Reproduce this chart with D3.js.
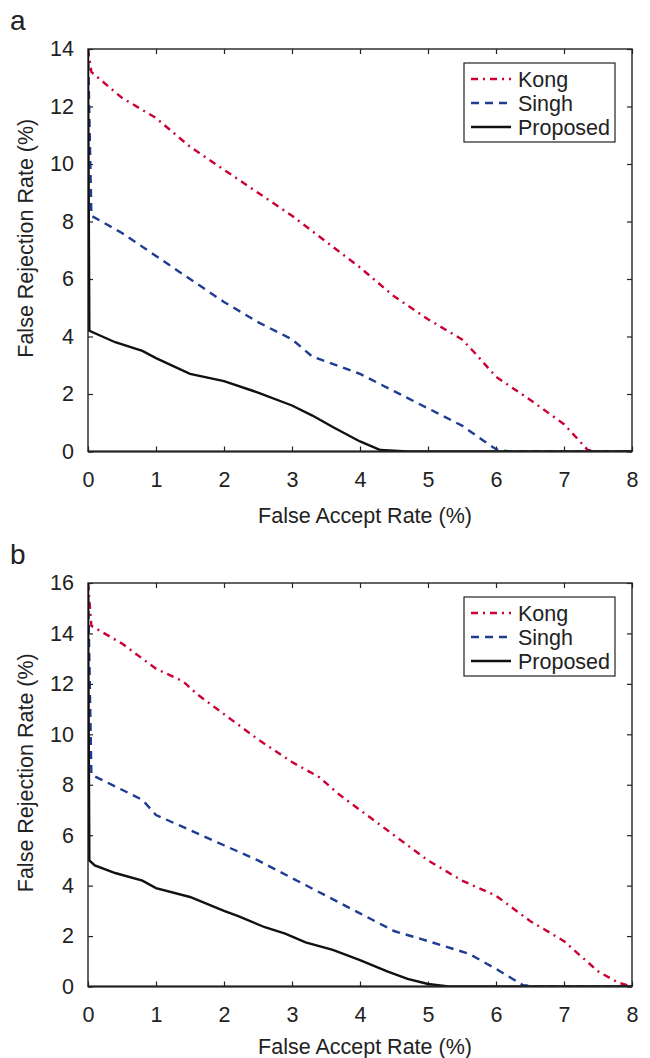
<!DOCTYPE html>
<html lang="en">
<head>
  <meta charset="UTF-8" />
  <title>FAR vs FRR</title>
  <script src="https://d3js.org/d3.v7.min.js"></script>
  <style>
    body { margin: 0; background: #fff; }
    svg { display: block; }
    text { font-family: 'Liberation Sans', Arial, sans-serif; fill: #222; }
    .tick text { font-size: 21.5px; }
    .tick line { stroke: #222; stroke-width: 1.2px; }
  </style>
</head>
<body>
  <svg id="chart" width="650" height="1058"></svg>

  <script>
    // Tick labels
    const xTicks = [0, 1, 2, 3, 4, 5, 6, 7, 8];
    const yTicksA = [0, 2, 4, 6, 8, 10, 12, 14];
    const yTicksB = [0, 2, 4, 6, 8, 10, 12, 14, 16];
    const seriesNames = ["Kong", "Singh", "Proposed"];

    // Panel a: [FAR %, FRR %]
    const kongA = [[0, 14], [0.05, 13.2], [0.5, 12.3], [1, 11.6], [1.5, 10.6], [2, 9.8], [2.5, 9.0],
      [3, 8.2], [3.5, 7.3], [4, 6.4], [4.5, 5.4], [5, 4.6], [5.5, 3.9], [5.7, 3.4], [6, 2.6],
      [6.5, 1.8], [7, 0.95], [7.35, 0.05], [7.5, 0], [8, 0]];
    const singhA = [[0, 14], [0.05, 8.2], [0.5, 7.6], [1, 6.8], [1.5, 6.0], [2, 5.2], [2.5, 4.5],
      [3, 3.9], [3.3, 3.3], [4, 2.7], [4.5, 2.1], [5, 1.5], [5.5, 0.9], [5.8, 0.4], [6, 0.08],
      [6.2, 0], [8, 0]];
    const propA = [[0, 14], [0.02, 4.2], [0.4, 3.8], [0.8, 3.5], [1, 3.25], [1.5, 2.7], [2, 2.45],
      [2.5, 2.05], [3, 1.6], [3.3, 1.25], [3.6, 0.85], [4, 0.35], [4.3, 0.05], [4.7, 0], [8, 0]];

    // Panel b
    const kongB = [[0, 16], [0.05, 14.3], [0.5, 13.6], [1, 12.6], [1.4, 12.1], [1.6, 11.6], [2, 10.8],
      [2.5, 9.8], [3, 8.9], [3.4, 8.3], [3.7, 7.6], [4, 7.0], [4.5, 6.0], [5, 5.0], [5.5, 4.2],
      [6, 3.6], [6.5, 2.6], [7, 1.8], [7.5, 0.6], [7.8, 0.15], [8, 0]];
    const singhB = [[0, 16], [0.05, 8.4], [0.5, 7.8], [0.8, 7.4], [1, 6.8], [1.5, 6.2], [2, 5.6],
      [2.5, 5.0], [3, 4.3], [3.5, 3.6], [4, 2.9], [4.5, 2.2], [5, 1.8], [5.6, 1.3], [6, 0.7],
      [6.4, 0.05], [6.6, 0], [8, 0]];
    const propB = [[0, 16], [0.02, 5.0], [0.1, 4.8], [0.4, 4.5], [0.8, 4.2], [1, 3.9], [1.5, 3.55],
      [2, 3.0], [2.2, 2.8], [2.6, 2.35], [2.9, 2.1], [3.2, 1.75], [3.6, 1.45], [4, 1.05],
      [4.4, 0.6], [4.7, 0.3], [5, 0.1], [5.3, 0], [8, 0]];

    const styles = [
      { color: "#cc0033", dash: "7,5,2,5" },
      { color: "#1f3c93", dash: "8,6" },
      { color: "#111", dash: null }
    ];

    const svg = d3.select("#chart");
    const left = 88, right = 632;

    function drawPanel(o) {
      const g = svg.append("g");
      const x = d3.scaleLinear().domain([0, 8]).range([left, right]);
      const y = d3.scaleLinear().domain([0, o.yMax]).range([o.bottom, o.top]);

      g.append("clipPath").attr("id", "clip" + o.label)
        .append("rect")
        .attr("x", left).attr("y", o.top)
        .attr("width", right - left).attr("height", o.bottom - o.top);

      // axes with inward ticks on all four sides
      g.append("g").attr("transform", `translate(0,${o.bottom})`)
        .call(d3.axisBottom(x).tickValues(xTicks).tickSizeInner(-5).tickSizeOuter(0).tickPadding(20));
      g.append("g").attr("transform", `translate(0,${o.top})`)
        .call(d3.axisTop(x).tickValues(xTicks).tickSizeInner(-5).tickSizeOuter(0).tickFormat(""));
      g.append("g").attr("transform", `translate(${left},0)`)
        .call(d3.axisLeft(y).tickValues(o.yTicks).tickSizeInner(-5).tickSizeOuter(0).tickPadding(14));
      g.append("g").attr("transform", `translate(${right},0)`)
        .call(d3.axisRight(y).tickValues(o.yTicks).tickSizeInner(-5).tickSizeOuter(0).tickFormat(""));
      g.selectAll(".domain").remove();

      g.append("rect")
        .attr("x", left).attr("y", o.top)
        .attr("width", right - left).attr("height", o.bottom - o.top)
        .attr("fill", "none").attr("stroke", "#222").attr("stroke-width", 1.4);

      const line = d3.line().x(d => x(d[0])).y(d => y(d[1]));
      o.series.forEach((s, i) => {
        g.append("path")
          .datum(s)
          .attr("clip-path", `url(#clip${o.label})`)
          .attr("fill", "none")
          .attr("stroke", styles[i].color)
          .attr("stroke-width", 2.4)
          .attr("stroke-dasharray", styles[i].dash)
          .attr("d", line);
      });
      // bottom axis drawn heavier, as in the original
      g.append("line").attr("x1", left).attr("x2", right).attr("y1", o.bottom).attr("y2", o.bottom)
        .attr("stroke", "#222").attr("stroke-width", 2);

      // axis titles
      g.append("text")
        .attr("x", (left + right) / 2 + 5).attr("y", o.bottom + o.titleGap)
        .attr("text-anchor", "middle").attr("font-size", 21.5)
        .text("False Accept Rate (%)");
      g.append("text")
        .attr("transform", `translate(33,${(o.top + o.bottom) / 2 - 12}) rotate(-90)`)
        .attr("text-anchor", "middle").attr("font-size", 21.5)
        .text("False Rejection Rate (%)");

      // panel label
      g.append("text")
        .attr("x", 10).attr("y", o.top - 19)
        .attr("font-size", 28)
        .text(o.label);

      // legend
      const lx = 464, ly = o.top + 14, lw = 151, lh = 79;
      g.append("rect")
        .attr("x", lx).attr("y", ly).attr("width", lw).attr("height", lh)
        .attr("fill", "#fff").attr("stroke", "#222").attr("stroke-width", 1.2);
      seriesNames.forEach((name, i) => {
        const cy = ly + 16 + i * 24;
        g.append("line")
          .attr("x1", lx + 7).attr("x2", lx + 47)
          .attr("y1", cy).attr("y2", cy)
          .attr("stroke", styles[i].color)
          .attr("stroke-width", 2.4)
          .attr("stroke-dasharray", styles[i].dash);
        g.append("text")
          .attr("x", lx + 54).attr("y", cy + 7.5)
          .attr("font-size", 21.5)
          .text(name);
      });
    }

    drawPanel({ label: "a", top: 49, bottom: 451.5, yMax: 14, yTicks: yTicksA, titleGap: 71, series: [kongA, singhA, propA] });
    drawPanel({ label: "b", top: 583, bottom: 986.5, yMax: 16, yTicks: yTicksB, titleGap: 67, series: [kongB, singhB, propB] });
  </script>
</body>
</html>
